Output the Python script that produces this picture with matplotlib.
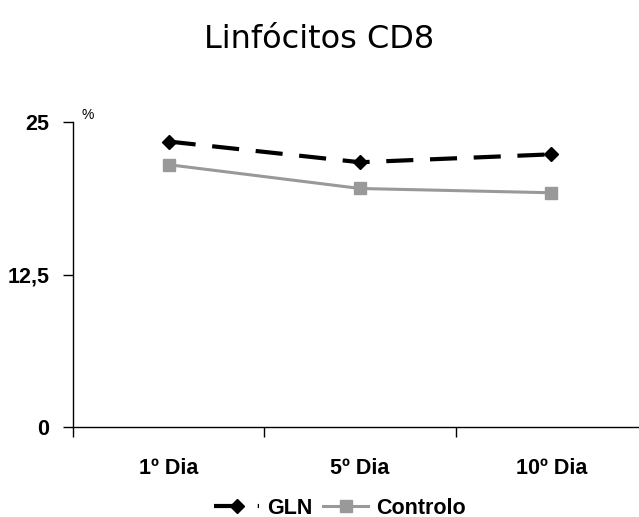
import numpy as np
import matplotlib
matplotlib.use("Agg")
import matplotlib.pyplot as plt

# data
days = ["1º Dia", "5º Dia", "10º Dia"]
gln = [23.4, 21.7, 22.35]
controlo = [21.5, 19.55, 19.2]
yticks = [0, 12.5, 25]
ytick_labels = ["0", "12,5", "25"]

plt.rcParams['font.family'] = ['Liberation Sans', 'DejaVu Sans']

fig = plt.figure(figsize=(6.39, 5.17), dpi=100)
ax = fig.add_axes([73/639, 90/517, 574/639, 305/517])

x = np.arange(len(days))
ax.plot(x, gln, color='black', lw=3, dashes=(6.5, 4), marker='D', ms=7,
        label='GLN', zorder=3)
ax.plot(x, controlo, color='#999999', lw=2.2, marker='s', ms=8,
        label='Controlo', zorder=2)

ax.set_xlim(-0.5, 2.5)
ax.set_ylim(0, 25)
ax.set_yticks(yticks)
ax.set_yticklabels(ytick_labels, fontsize=15.5, fontweight='bold')
ax.set_xticks(x)
ax.set_xticklabels(days, fontsize=15.5, fontweight='bold')
ax.set_xticks([-0.5, 0.5, 1.5, 2.5], minor=True)
ax.tick_params(axis='x', which='major', length=0, pad=22)
ax.tick_params(axis='x', which='minor', length=7, width=1, direction='out')
ax.tick_params(axis='y', length=7, width=1, direction='out', pad=10)
for s in ['top', 'right']:
    ax.spines[s].set_visible(False)
for s in ['left', 'bottom']:
    ax.spines[s].set_linewidth(1)

ax.text(0.015, 1.0, "%", transform=ax.transAxes, fontsize=10, va='bottom', ha='left')

fig.text(0.5, 1 - 40/517, "Linfócitos CD8", ha='center', va='center',
         fontsize=23, family='DejaVu Sans')

leg = fig.legend(loc='center', bbox_to_anchor=(340/639, 1 - 508/517), ncol=2,
                 frameon=False, prop={'size': 15.5, 'weight': 'bold'},
                 handlelength=2.1, columnspacing=0.5, handletextpad=0.37)

fig.savefig("out.png", dpi=100)
